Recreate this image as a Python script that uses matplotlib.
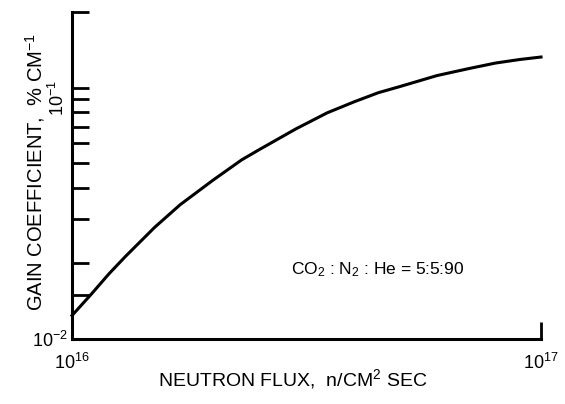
import numpy as np
import matplotlib
matplotlib.use('Agg')
import matplotlib.pyplot as plt
from matplotlib.ticker import FixedLocator, NullFormatter

plt.rcParams['font.family'] = ['Liberation Sans', 'DejaVu Sans']
plt.rcParams['mathtext.fontset'] = 'custom'
plt.rcParams['mathtext.rm'] = 'Liberation Sans'
plt.rcParams['mathtext.it'] = 'Liberation Sans:italic'
plt.rcParams['mathtext.bf'] = 'Liberation Sans:bold'

# ------------------------------
# Gain coefficient vs neutron flux (CO2:N2:He = 5:5:90)
# ------------------------------
flux = np.array([1.0, 1.1, 1.2, 1.3, 1.5, 1.7, 2.0, 2.3, 2.5, 3.0, 3.5, 4.0,
                 4.5, 5.0, 6.0, 7.0, 8.0, 9.0, 10.0]) * 1e16
gain = np.array([0.0124, 0.0151, 0.0182, 0.0213, 0.0278, 0.0342, 0.0429,
                 0.0516, 0.0565, 0.0685, 0.0794, 0.0879, 0.0955, 0.101,
                 0.1117, 0.119, 0.1253, 0.1294, 0.1324])

x_ticks = [1e16, 1e17]
x_labels = [r'$\mathregular{10^{16}}$', r'$\mathregular{10^{17}}$']
y_ticks = [1e-2, 1e-1, 2e-1]
y_labels = [r'$\mathregular{10^{-2}}$', r'$\mathregular{10^{-1}}$', '']
y_minor = [1.5e-2, 2e-2, 3e-2, 4e-2, 5e-2, 6e-2, 7e-2, 8e-2, 9e-2]

fig = plt.figure(figsize=(5.65, 4.04), dpi=100)
ax = fig.add_axes([72 / 565, 1 - 339 / 404, 469 / 565, 327 / 404])

ax.plot(flux, gain, color='black', linewidth=2.2, clip_on=False,
        solid_joinstyle='round')

ax.set_xscale('log')
ax.set_yscale('log')
ax.set_xlim(1e16, 1e17)
ax.set_ylim(1e-2, 2e-1)

ax.xaxis.set_major_locator(FixedLocator(x_ticks))
ax.xaxis.set_minor_locator(FixedLocator([]))
ax.set_xticklabels(x_labels)
ax.yaxis.set_major_locator(FixedLocator(y_ticks))
ax.yaxis.set_minor_locator(FixedLocator(y_minor))
ax.yaxis.set_minor_formatter(NullFormatter())
ax.set_yticklabels(y_labels)
ax.get_yticklabels()[1].set_rotation(90)

ax.tick_params(which='both', direction='in', length=12.5, width=2.0, labelsize=13)
ax.tick_params(axis='x', pad=10)
ax.tick_params(axis='y', pad=3)

for side in ['top', 'right']:
    ax.spines[side].set_visible(False)
for side in ['left', 'bottom']:
    ax.spines[side].set_linewidth(2.2)

ax.set_xlabel('NEUTRON FLUX,  n/CM$^{2}$ SEC', fontsize=14)
ax.xaxis.set_label_coords(0.47, -0.086)
ax.set_ylabel('GAIN COEFFICIENT,  % CM$^{-1}$', fontsize=14.5)
ax.yaxis.set_label_coords(-0.054, 0.51)

ax.text(0.467, 0.211, r'CO$_2$ : N$_2$ : He = 5:5:90', transform=ax.transAxes,
        fontsize=12.5, ha='left', va='center')

fig.savefig('out.png', dpi=100)
plt.close()
